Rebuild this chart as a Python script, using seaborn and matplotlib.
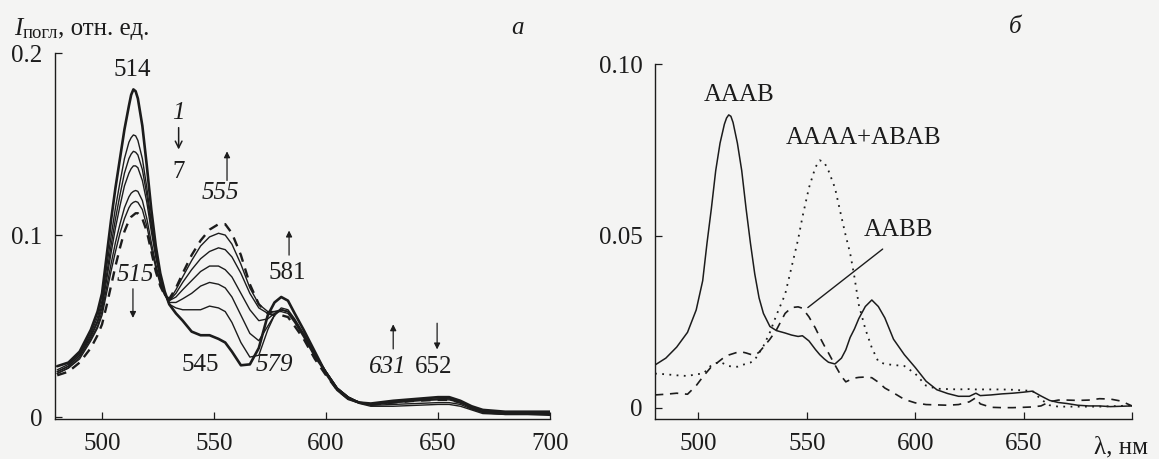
import matplotlib
matplotlib.use("Agg")
import matplotlib.pyplot as plt
import seaborn as sns

sns.set_theme(style="white")
plt.rcParams['font.family'] = ['Liberation Serif', 'DejaVu Serif']

# ---------------- data: panel a ----------------
LAM_A = [480, 485, 490, 495, 498, 500, 502, 504, 506, 508, 510, 512, 513, 514, 515, 516, 518,
         520, 522, 524, 526, 528, 530, 533, 536, 540, 544, 548, 552, 555, 558, 562,
         566, 570, 574, 577, 580, 583, 586, 590, 595, 600, 605, 610, 615, 620, 630,
         640, 650, 655, 660, 665, 670, 680, 690, 700]

CURVE_1 = [.028, .030, .036, .048, .058, .068, .088, .108, .126, .142, .158, .171, .177, .180, .179, .175, .160,
           .138, .114, .094, .079, .069, .062, .057, .053, .047, .045, .045, .043, .041, .036, .0285,
           .029, .038, .056, .063, .066, .064, .057, .048, .036, .024, .015, .010, .008, .0075, .009,
           .010, .011, .011, .009, .006, .004, .003, .003, .003]
CURVE_2 = [.026, .029, .035, .046, .055, .064, .082, .099, .115, .129, .142, .151, .1535, .155, .1545, .152, .142,
           .126, .107, .090, .077, .068, .062, .060, .059, .059, .059, .061, .060, .058, .052, .041,
           .033, .034, .048, .056, .060, .059, .054, .046, .035, .025, .016, .011, .008, .007, .008,
           .009, .010, .010, .008, .005, .003, .002, .002, .002]
CURVE_3 = [.025, .028, .034, .045, .053, .062, .078, .094, .109, .122, .134, .142, .1445, .146, .1455, .144, .136,
           .122, .105, .089, .077, .068, .063, .063, .065, .068, .072, .074, .073, .071, .066, .056,
           .046, .042, .050, .056, .059, .058, .053, .045, .034, .025, .016, .011, .008, .007, .008,
           .009, .0095, .0095, .008, .005, .003, .002, .002, .002]
CURVE_4 = [.025, .028, .034, .044, .052, .060, .075, .090, .104, .116, .127, .134, .1365, .138, .138, .137, .130,
           .118, .102, .088, .076, .068, .064, .066, .070, .075, .080, .083, .083, .081, .077, .068,
           .059, .053, .054, .057, .059, .058, .053, .045, .034, .025, .016, .011, .008, .007, .0085,
           .0095, .010, .0105, .0085, .0055, .003, .0025, .002, .002]
CURVE_5 = [.024, .027, .033, .043, .050, .058, .071, .084, .096, .106, .115, .121, .123, .124, .1245, .124, .119,
           .109, .096, .084, .074, .067, .064, .068, .074, .081, .087, .091, .093, .092, .088, .079,
           .068, .060, .057, .058, .059, .058, .053, .045, .034, .025, .016, .011, .008, .0065, .007,
           .0075, .008, .008, .007, .0045, .0025, .0015, .0015, .0015]
CURVE_6 = [.024, .027, .032, .042, .049, .056, .068, .080, .091, .101, .109, .115, .117, .118, .1185, .118, .114,
           .105, .093, .082, .073, .067, .064, .070, .077, .086, .094, .099, .101, .100, .095, .084,
           .071, .062, .058, .058, .058, .057, .052, .044, .033, .024, .015, .010, .0075, .006, .006,
           .0065, .007, .007, .006, .004, .002, .0015, .0015, .001]
CURVE_7 = [.023, .025, .030, .038, .045, .051, .061, .072, .083, .093, .102, .108, .110, .111, .112, .112, .109,
           .102, .091, .080, .072, .067, .065, .071, .079, .089, .097, .103, .106, .106, .101, .089,
           .073, .062, .057, .056, .056, .055, .050, .043, .032, .023, .015, .010, .008, .007, .008,
           .009, .0095, .0095, .008, .005, .003, .002, .002, .002]

# ---------------- data: panel b ----------------
LAM_B = [480, 485, 490, 495, 499, 502, 504, 506, 508, 510, 512, 513, 514, 515, 516, 518, 520,
         522, 524, 526, 528, 530, 533, 536, 540, 543, 546, 548, 551, 554, 556, 558,
         560, 563, 566, 568, 570, 572, 574, 577, 580, 583, 586, 590, 595, 600, 605,
         610, 615, 620, 625, 628, 630, 635, 640, 645, 650, 654, 658, 662, 666, 670,
         675, 680, 685, 690, 695, 700]

AAAB = [.0125, .0145, .0177, .022, .0285, .037, .048, .058, .069, .077, .0825, .0843, .0852, .0848, .083, .077, .069,
        .058, .048, .039, .032, .0275, .0237, .0225, .0218, .0212, .0208, .0210, .0195, .0170, .0155, .0143,
        .0133, .0128, .0145, .0169, .0205, .0230, .0260, .0295, .0314, .0295, .0262, .0200, .0155, .0118, .0078,
        .0053, .0042, .0034, .0034, .0043, .0036, .0038, .0041, .0043, .0046, .0049, .0035, .0022, .0016, .0013,
        .0008, .0006, .0006, .0004, .0005, .0006]
AAAA_ABAB = [.0100, .0098, .0095, .0093, .0098, .0100, .0110, .0125, .0130, .0134, .0128, .0125, .0122, .0121, .0120, .0120, .0125,
             .0128, .0132, .0140, .0160, .0180, .0220, .0270, .0330, .0410, .0490, .0555, .0640, .0700, .0720, .0715,
             .0690, .0640, .0555, .0500, .0450, .0380, .0300, .0230, .0175, .0135, .0128, .0125, .0122, .0100, .0065,
             .0056, .0055, .0054, .0055, .0054, .0054, .0054, .0054, .0053, .0051, .0050, .0025, .0008, .0004, .0004,
             .0004, .0004, .0004, .0005, .0006, .0008]
AABB = [.0038, .0040, .0043, .0040, .0065, .0090, .0105, .0120, .0128, .0138, .0148, .0151, .0154, .0156, .0158, .0162, .0163,
        .0160, .0156, .0154, .0162, .0177, .0200, .0227, .0275, .0292, .0294, .0290, .0265, .0232, .0206, .0182,
        .0160, .0125, .0092, .0076, .0082, .0087, .0089, .0090, .0088, .0075, .0058, .0044, .0025, .0015, .0010,
        .0009, .0008, .0010, .0018, .0030, .0012, .0002, .0001, .0001, .0002, .0003, .0006, .0018, .0023, .0023,
        .0022, .0023, .0027, .0026, .0020, .0006]

XTICKS = [500, 550, 600, 650, 700]
YTICKS_A = [0, 0.1, 0.2]
YTICKS_B = [0, 0.05, 0.10]

INK = '#1c1c1c'
BG = '#f4f4f3'
FS = 18

fig = plt.figure(figsize=(11.59, 4.59), dpi=100, facecolor=BG)
axa = fig.add_axes([55/1159, 1-419/459, (550-55)/1159, (419-53)/459])
axb = fig.add_axes([655/1159, 1-419/459, (1132-655)/1159, (419-64)/459])

for ax in (axa, axb):
    ax.set_facecolor('none')
    for s in ('top', 'right'):
        ax.spines[s].set_visible(False)
    for s in ('left', 'bottom'):
        ax.spines[s].set_color(INK)
        ax.spines[s].set_linewidth(1.0)
    ax.tick_params(direction='in', length=5, width=0.9, colors=INK,
                   labelsize=FS, left=True, bottom=True)
    ax.tick_params(axis='x', pad=10)
    ax.tick_params(axis='y', pad=9)

# ----- panel a -----
curves = [CURVE_1, CURVE_2, CURVE_3, CURVE_4, CURVE_5, CURVE_6, CURVE_7]
for i, c in enumerate(curves):
    if i == 0:
        kw = dict(lw=1.9, linestyle='-')
    elif i == 6:
        kw = dict(lw=1.7, linestyle=(0, (4, 3)))
    else:
        kw = dict(lw=1.0, linestyle='-')
    sns.lineplot(x=LAM_A, y=c, ax=axa, color=INK, estimator=None, sort=False, **kw)

axa.set_xlim(479, 700)
axa.set_ylim(-0.001, 0.2)
axa.set_xticks(XTICKS)
axa.set_xticklabels([str(t) for t in XTICKS])
axa.set_yticks(YTICKS_A)
axa.set_yticklabels(['0', '0.1', '0.2'])

def txt(ax, x, y, s, italic=False):
    ax.text(x, y, s, ha='center', va='center', fontsize=FS, color=INK,
            style='italic' if italic else 'normal')

def arrow(ax, x, y0, y1, ms=9):
    ax.annotate('', xy=(x, y1), xytext=(x, y0),
                arrowprops=dict(arrowstyle='-|>', color=INK, lw=0.9,
                                mutation_scale=ms, shrinkA=0, shrinkB=0))

txt(axa, 513.4, 0.1905, '514')
txt(axa, 534.0, 0.167, '1', italic=True)
axa.annotate('', xy=(534.2, 0.147), xytext=(534.2, 0.159),
             arrowprops=dict(arrowstyle='->', color=INK, lw=1.1,
                             mutation_scale=12, shrinkA=0, shrinkB=0))
txt(axa, 534.3, 0.1345, '7')
txt(axa, 552.7, 0.123, '555', italic=True)
arrow(axa, 555.8, 0.130, 0.146)
txt(axa, 582.6, 0.079, '581')
arrow(axa, 583.5, 0.089, 0.1025)
txt(axa, 515.0, 0.078, '515', italic=True)
arrow(axa, 513.8, 0.0705, 0.0545)
txt(axa, 544.0, 0.0286, '545')
txt(axa, 577.0, 0.0286, '579', italic=True)
txt(axa, 627.7, 0.0275, '631', italic=True)
arrow(axa, 630.0, 0.0375, 0.0510)
txt(axa, 648.0, 0.0275, '652')
arrow(axa, 649.6, 0.0516, 0.0372)

# ----- panel b -----
sns.lineplot(x=LAM_B, y=AAAB, ax=axb, color=INK, lw=1.1, linestyle='-',
             estimator=None, sort=False)
sns.lineplot(x=LAM_B, y=AAAA_ABAB, ax=axb, color=INK, lw=1.3, linestyle=(0, (1, 3)),
             estimator=None, sort=False)
sns.lineplot(x=LAM_B, y=AABB, ax=axb, color=INK, lw=1.2, linestyle=(0, (5, 4)),
             estimator=None, sort=False)

axb.set_xlim(480, 700)
axb.set_ylim(-0.0032, 0.100)
axb.set_xticks(XTICKS)
axb.set_xticklabels(['500', '550', '600', '650', ''])
axb.set_yticks(YTICKS_B)
axb.set_yticklabels(['0', '0.05', '0.10'])

txt(axb, 519.0, 0.091, 'AAAB')
txt(axb, 576.0, 0.0785, 'AAAA+ABAB')
txt(axb, 592.4, 0.0517, 'AABB')
axb.plot([585.0, 550.5], [0.0462, 0.0292], color=INK, lw=1.0)

# x-axis unit label on panel b
fig.text(1121/1159, 1-447/459, 'λ, нм', ha='center', va='center', fontsize=FS, color=INK)

# y-axis title (composed)
fig.text(14/1159, 1-35/459, 'I', ha='left', va='baseline', fontsize=FS, color=INK, style='italic')
fig.text(23/1159, 1-38/459, 'погл', ha='left', va='baseline', fontsize=13.5, color=INK)
fig.text(58/1159, 1-35/459, ', отн. ед.', ha='left', va='baseline', fontsize=FS, color=INK)

# panel letters
fig.text(517/1159, 1-28/459, 'а', ha='center', va='center', fontsize=FS, color=INK, style='italic')
fig.text(1015/1159, 1-27/459, 'б', ha='center', va='center', fontsize=FS, color=INK, style='italic')

fig.savefig('out.png', dpi=100, facecolor=BG)
